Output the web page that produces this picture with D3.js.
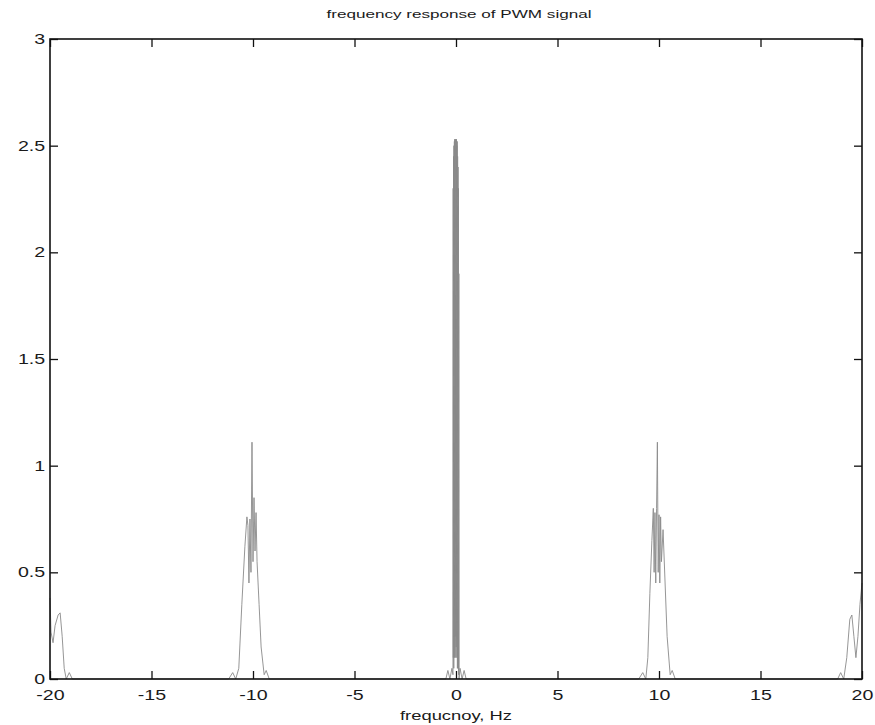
<!DOCTYPE html>
<html>
<head>
<meta charset="utf-8">
<script src="https://cdn.jsdelivr.net/npm/d3@7"></script>
<style>
body { margin: 0; background: #fff; }
svg { display: block; }
text { font-family: "Liberation Sans", Arial, Helvetica, sans-serif; fill: #1a1a1a; }
</style>
</head>
<body>
<div id="chart"></div>
<script>
// spectrum trace (Hz, magnitude)
var freqs = [
    -20, -19.95, -19.85, -19.75, -19.6, -19.5, -19.4, -19.3, -19.2, -19.05, -18.9, -18.5,
    -11.2, -11.0, -10.85, -10.7, -10.55, -10.4, -10.3, -10.25, -10.2, -10.15, -10.1, -10.05,
    -10.0, -9.95, -9.9, -9.85, -9.8, -9.7, -9.6, -9.45, -9.35, -9.2,
    -0.5, -0.4, -0.3, -0.2, -0.15, -0.14, -0.13, -0.12, -0.11, -0.1, -0.09, -0.08, -0.07,
    -0.06, -0.05, -0.04, -0.03, -0.02, -0.01, 0, 0.01, 0.02, 0.03, 0.04, 0.05, 0.06,
    0.07, 0.08, 0.09, 0.1, 0.11, 0.12, 0.13, 0.14, 0.15, 0.2, 0.3, 0.4, 0.5,
    9.0, 9.2, 9.35, 9.45, 9.55, 9.65, 9.72, 9.76, 9.8, 9.84, 9.88, 9.92,
    9.96, 10.0, 10.04, 10.08, 10.12, 10.2, 10.3, 10.4, 10.55, 10.65, 10.8,
    18.8, 18.95, 19.1, 19.25, 19.4, 19.5, 19.6, 19.7, 19.8, 19.9, 20
];
var mags = [
    0.38, 0.22, 0.17, 0.25, 0.3, 0.31, 0.2, 0.05, 0, 0.03, 0, 0,
    0, 0.03, 0, 0.05, 0.35, 0.62, 0.76, 0.72, 0.45, 0.75, 0.5, 1.11,
    0.55, 0.85, 0.6, 0.78, 0.55, 0.35, 0.15, 0.02, 0.04, 0,
    0, 0.04, 0, 0.05, 0.02, 2.3, 0.1, 2.45, 0.05, 2.5, 0.2, 2.52, 0.1,
    2.53, 0.3, 2.53, 0.2, 1.8, 0.1, 2.53, 0.15, 2.53, 0.2, 2.5, 0.1, 2.52,
    0.05, 2.45, 0.1, 2.4, 0.05, 2.3, 0.02, 1.9, 0, 0.05, 0, 0.04, 0,
    0, 0.03, 0, 0.1, 0.4, 0.65, 0.8, 0.5, 0.78, 0.45, 0.8, 1.11,
    0.5, 0.77, 0.45, 0.76, 0.55, 0.7, 0.45, 0.2, 0.02, 0.04, 0,
    0, 0.03, 0, 0.1, 0.28, 0.3, 0.2, 0.1, 0.2, 0.35, 0.45
];
var xTicks = [-20, -15, -10, -5, 0, 5, 10, 15, 20];
var yTicks = [0, 0.5, 1, 1.5, 2, 2.5, 3];

var W = 875, H = 725;
var L = 50, R = 862, T = 39, B = 679;

var x = d3.scaleLinear().domain([-20, 20]).range([L, R]);
var y = d3.scaleLinear().domain([0, 3]).range([B, T]);

var svg = d3.select("#chart").append("svg")
    .attr("width", W)
    .attr("height", H);

// the trace itself
var pts = freqs.map(function(f, i) { return [f, mags[i]]; });
var line = d3.line()
    .x(function(d) { return x(d[0]); })
    .y(function(d) { return y(d[1]); });
svg.append("path")
    .datum(pts)
    .attr("d", line)
    .attr("fill", "none")
    .attr("stroke", "#8a8a8a")
    .attr("stroke-width", 0.9);

// axes, ticks point inward on all four sides
var fmt = function(d) { return String(d).replace("\u2212", "-"); };
var gx = svg.append("g")
    .attr("transform", "translate(0," + B + ")")
    .call(d3.axisBottom(x).tickValues(xTicks).tickSize(-8).tickPadding(11).tickFormat(fmt));
var gy = svg.append("g")
    .attr("transform", "translate(" + L + ",0)")
    .call(d3.axisLeft(y).tickValues(yTicks).tickSize(-8).tickPadding(7).tickFormat(fmt));
svg.append("g")
    .attr("transform", "translate(0," + T + ")")
    .call(d3.axisTop(x).tickValues(xTicks).tickSize(-8).tickFormat(""));
svg.append("g")
    .attr("transform", "translate(" + R + ",0)")
    .call(d3.axisRight(y).tickValues(yTicks).tickSize(-8).tickFormat(""));

svg.selectAll(".domain").remove();
svg.selectAll(".tick line").attr("stroke", "#111").attr("stroke-width", 1.3);
svg.append("rect")
    .attr("x", L).attr("y", T)
    .attr("width", R - L).attr("height", B - T)
    .attr("fill", "none")
    .attr("stroke", "#111")
    .attr("stroke-width", 1.6);

// labels look stretched sideways in the source picture
gx.selectAll(".tick text")
    .attr("font-size", 14)
    .attr("transform", "scale(1.4,1)");
gy.selectAll(".tick text")
    .attr("font-size", 14)
    .attr("x", -3.5)
    .attr("transform", "scale(1.4,1)");

svg.append("text")
    .attr("x", 459).attr("y", 18)
    .attr("text-anchor", "middle")
    .attr("font-size", 11)
    .attr("textLength", 265)
    .attr("lengthAdjust", "spacingAndGlyphs")
    .text("frequency response of PWM signal");
svg.append("text")
    .attr("x", 456).attr("y", 720)
    .attr("text-anchor", "middle")
    .attr("font-size", 12)
    .attr("textLength", 112)
    .attr("lengthAdjust", "spacingAndGlyphs")
    .text("frequcnoy, Hz");
</script>
</body>
</html>
